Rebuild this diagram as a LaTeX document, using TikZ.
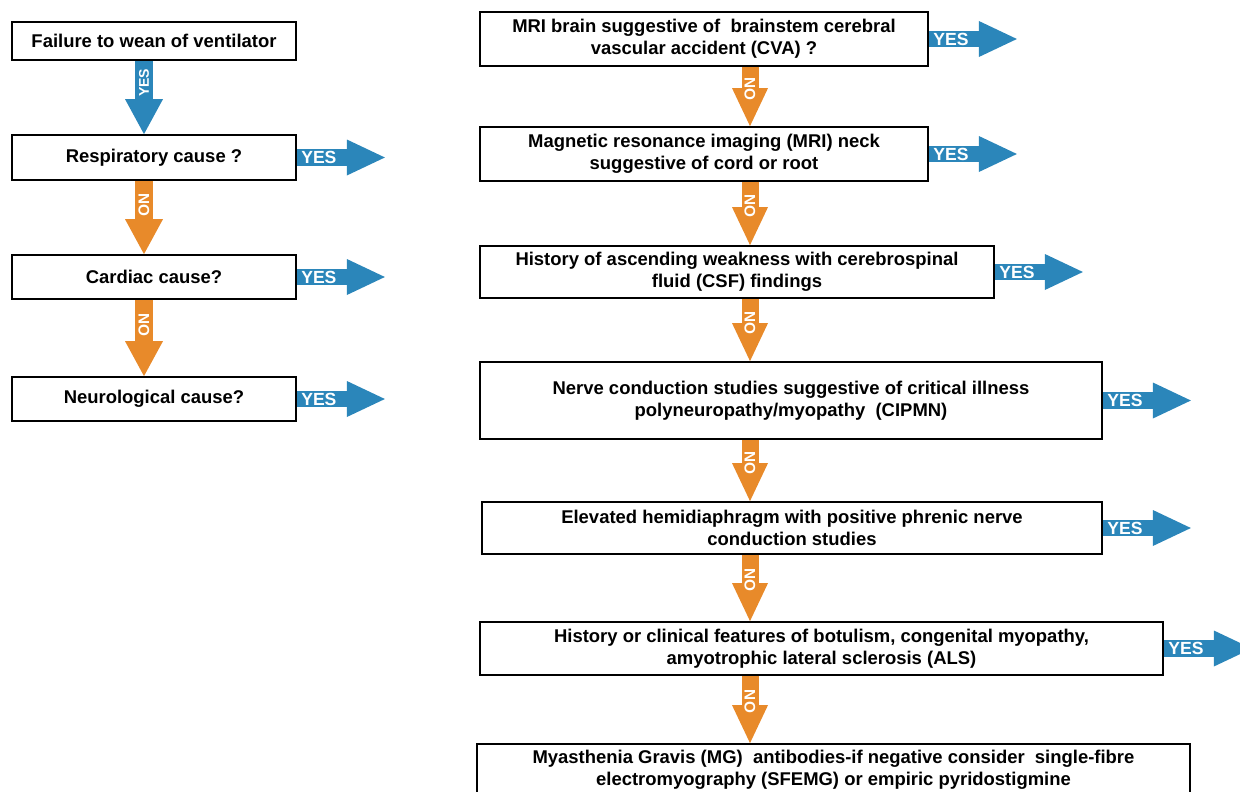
\documentclass[tikz,border=0pt]{standalone}
\usepackage{fontspec}
\setmainfont{Liberation Sans}
\usetikzlibrary{arrows.meta}
\definecolor{yesblue}{RGB}{43,134,186}
\definecolor{noorange}{RGB}{232,138,42}
\tikzstyle{stepbox} = [draw, line width=1pt, fill=white, align=center, inner sep=2pt, font=\bfseries\fontsize{10.5}{12.5}\selectfont]
\tikzstyle{yesright} = [draw=yesblue, line width=0.33cm, -{Triangle[width=0.72cm, length=0.76cm, line width=0pt]}]
\tikzstyle{yesdown} = [draw=yesblue, line width=0.36cm, -{Triangle[width=0.76cm, length=0.7cm, line width=0pt]}]
\tikzstyle{noleft} = [draw=noorange, line width=0.36cm, -{Triangle[width=0.76cm, length=0.7cm, line width=0pt]}]
\tikzstyle{noright} = [draw=noorange, line width=0.34cm, -{Triangle[width=0.72cm, length=0.76cm, line width=0pt]}]
\tikzstyle{arrowtext} = [text=white, inner sep=0pt, font=\bfseries\fontsize{10}{11}\selectfont]
\tikzstyle{notext} = [arrowtext, rotate=-90, font=\bfseries\fontsize{8.7}{9}\selectfont]

\begin{document}
\begin{tikzpicture}
      \useasboundingbox (0, 0) rectangle (24.8, -15.82);
      \coordinate (lcol) at (2.88, 0);
      \coordinate (rcol) at (15.0, 0);

      % left column
      \node[stepbox, minimum width=5.68cm, minimum height=0.76cm] (fail) at (3.08, -0.82) {Failure to wean of ventilator};
      \node[stepbox, minimum width=5.68cm, minimum height=0.9cm] (resp) at (3.08, -3.15) {Respiratory cause ?};
      \node[stepbox, minimum width=5.68cm, minimum height=0.88cm] (card) at (3.08, -5.54) {Cardiac cause?};
      \node[stepbox, minimum width=5.68cm, minimum height=0.88cm] (neuro) at (3.08, -7.98) {Neurological cause?};

      % right column
      \node[stepbox, minimum width=8.96cm, minimum height=1.08cm] (mribrain) at (14.08, -0.78) {MRI brain suggestive of \ brainstem cerebral\\vascular accident (CVA) ?};
      \node[stepbox, minimum width=8.96cm, minimum height=1.08cm] (mrineck) at (14.08, -3.08) {Magnetic resonance imaging (MRI) neck\\suggestive of cord or root};
      \node[stepbox, minimum width=10.28cm, minimum height=1.04cm] (csf) at (14.74, -5.44) {History of ascending weakness with cerebrospinal\\fluid (CSF) findings};
      \node[stepbox, minimum width=12.44cm, minimum height=1.54cm] (ncs) at (15.82, -8.01) {Nerve conduction studies suggestive of critical illness\\polyneuropathy/myopathy \ (CIPMN)};
      \node[stepbox, minimum width=12.4cm, minimum height=1.04cm] (phrenic) at (15.84, -10.56) {Elevated hemidiaphragm with positive phrenic nerve\\conduction studies};
      \node[stepbox, minimum width=13.66cm, minimum height=1.06cm] (als) at (16.43, -12.97) {History or clinical features of botulism, congenital myopathy,\\amyotrophic lateral sclerosis (ALS)};
      \node[stepbox, minimum width=14.26cm, minimum height=1.02cm] (mg) at (16.67, -15.39) {Myasthenia Gravis (MG) \ antibodies-if negative consider \ single-fibre\\electromyography (SFEMG) or empiric pyridostigmine};

      % down arrows
      \draw[yesdown] (fail.south -| lcol) -- node[arrowtext, rotate=90, pos=0.3, font=\bfseries\fontsize{8}{9}\selectfont] {YES} (resp.north -| lcol);
      \draw[noleft] (resp.south -| lcol) -- node[notext, pos=0.33] {NO} (card.north -| lcol);
      \draw[noleft] (card.south -| lcol) -- node[notext, pos=0.33] {NO} (neuro.north -| lcol);
      \draw[noright] (mribrain.south -| rcol) -- node[notext, pos=0.38] {NO} (mrineck.north -| rcol);
      \draw[noright] (mrineck.south -| rcol) -- node[notext, pos=0.38] {NO} (csf.north -| rcol);
      \draw[noright] (csf.south -| rcol) -- node[notext, pos=0.38] {NO} (ncs.north -| rcol);
      \draw[noright] (ncs.south -| rcol) -- node[notext, pos=0.38] {NO} (phrenic.north -| rcol);
      \draw[noright] (phrenic.south -| rcol) -- node[notext, pos=0.38] {NO} (als.north -| rcol);
      \draw[noright] (als.south -| rcol) -- node[notext, pos=0.38] {NO} (mg.north -| rcol);

      % yes arrows
      \draw[yesright] (resp.east) -- node[arrowtext, pos=0.25] {YES} ++(1.76, 0);
      \draw[yesright] (card.east) -- node[arrowtext, pos=0.25] {YES} ++(1.76, 0);
      \draw[yesright] (neuro.east) -- node[arrowtext, pos=0.25] {YES} ++(1.76, 0);
      \draw[yesright] (mribrain.east) -- node[arrowtext, pos=0.25] {YES} ++(1.76, 0);
      \draw[yesright] (mrineck.east) -- node[arrowtext, pos=0.25] {YES} ++(1.76, 0);
      \draw[yesright] (csf.east) -- node[arrowtext, pos=0.25] {YES} ++(1.76, 0);
      \draw[yesright] (ncs.east) -- node[arrowtext, pos=0.25] {YES} ++(1.76, 0);
      \draw[yesright] (phrenic.east) -- node[arrowtext, pos=0.25] {YES} ++(1.76, 0);
      \draw[yesright] (als.east) -- node[arrowtext, pos=0.25] {YES} ++(1.76, 0);
    \end{tikzpicture}
\end{document}
